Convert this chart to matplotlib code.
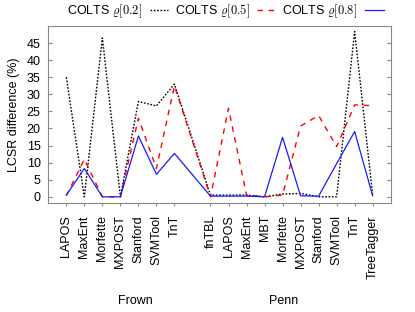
import matplotlib
matplotlib.use("Agg")
import matplotlib.pyplot as plt
import matplotlib.transforms as mtransforms

plt.rcParams["font.family"] = ["Liberation Sans", "DejaVu Sans"]
plt.rcParams["mathtext.fontset"] = "cm"
plt.rcParams["font.size"] = 9

# categories per corpus
frown_taggers = ["LAPOS", "MaxEnt", "Morfette", "MXPOST", "Stanford", "SVMTool", "TnT"]
penn_taggers = ["fnTBL", "LAPOS", "MaxEnt", "MBT", "Morfette", "MXPOST",
                "Stanford", "SVMTool", "TnT", "TreeTagger"]

# LCSR difference (%) for each COLTS setting
colts_02 = [35.0, 0.0, 46.5, 0.0, 27.9, 26.6, 33.0,
            0.5, 0.5, 0.5, 0.0, 0.8, 1.0, 0.0, 0.0, 48.4, 0.5]
colts_05 = [0.3, 11.0, 0.0, 0.0, 23.0, 8.3, 32.5,
            0.0, 25.9, 0.5, 0.0, 0.5, 20.7, 23.8, 14.7, 26.9, 26.7]
colts_08 = [0.5, 8.3, 0.0, 0.0, 17.8, 6.6, 12.7,
            0.2, 0.2, 0.2, 0.0, 17.4, 0.3, 0.2, 9.7, 19.1, 0.3]

y_ticks = [0, 5, 10, 15, 20, 25, 30, 35, 40, 45]

# one empty slot between the two corpora
x = list(range(len(frown_taggers))) + \
    [len(frown_taggers) + 1 + i for i in range(len(penn_taggers))]
labels = frown_taggers + penn_taggers

fig = plt.figure(figsize=(4.15, 3.12), dpi=100)
ax = fig.add_axes([0.1164, 0.3484, 0.825, 0.5683])

ax.plot(x, colts_02, color="black", linestyle=(0, (1.2, 1.2)), lw=1.0,
        label=r"COLTS $\varrho[0.2]$")
ax.plot(x, colts_05, color="#ff0000", linestyle=(0, (4, 4)), lw=1.0,
        label=r"COLTS $\varrho[0.5]$")
ax.plot(x, colts_08, color="#1a1aff", linestyle="-", lw=0.9,
        label=r"COLTS $\varrho[0.8]$")

ax.set_xlim(-1, x[-1] + 1)
ax.set_ylim(-1.9, 50)
ax.set_yticks(y_ticks)
ax.set_xticks(x)
ax.set_xticklabels(labels, rotation=90)
ax.set_ylabel("LCSR difference (%)", labelpad=5)

for s in ax.spines.values():
    s.set_color("#888888")
ax.tick_params(axis="y", direction="in", length=3, color="#888888",
               right=True, pad=5.5)
ax.tick_params(axis="x", direction="out", length=2, color="#888888", pad=6.5)

# corpus group labels under the tick labels
trans = mtransforms.blended_transform_factory(ax.transData, fig.transFigure)
ax.text(3.85, 0.036, "Frown", transform=trans, ha="center", va="center")
ax.text(12.07, 0.036, "Penn", transform=trans, ha="center", va="center")

fig.legend(loc="center", bbox_to_anchor=(0.543, 0.9625), ncol=3, frameon=False,
           markerfirst=False, handlelength=1.5, handletextpad=0.6,
           columnspacing=0.5, borderaxespad=0, fontsize=9)

fig.savefig("out.png", dpi=100)
